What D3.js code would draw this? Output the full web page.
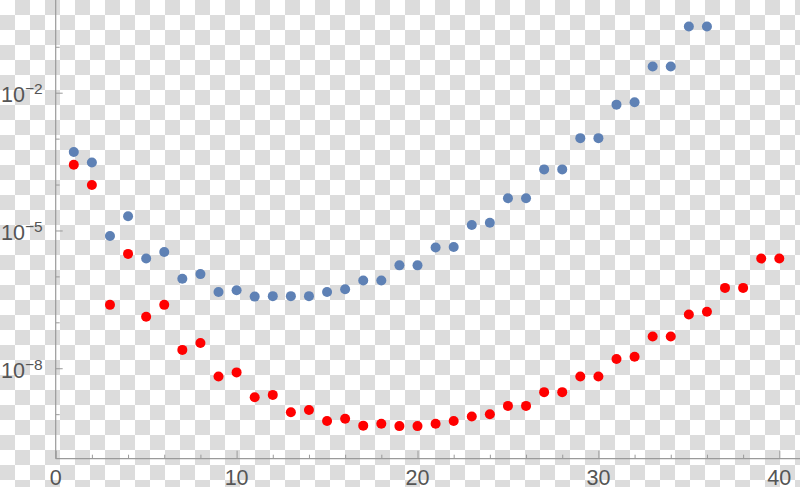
<!DOCTYPE html>
<html>
<head>
<meta charset="utf-8">
<script src="https://cdn.jsdelivr.net/npm/d3@7"></script>
<style>
html,body{margin:0;padding:0;background:#fff;}
svg{display:block;}
text{font-family:"Liberation Sans",Arial,Helvetica,sans-serif;fill:#555;}
</style>
</head>
<body>
<svg id="chart" width="800" height="487"></svg>
<script>
// ---- data (log10 of values) ----
const blueX = d3.range(1, 37);
const blueLog = [-3.29,-3.52,-5.12,-4.69,-5.61,-5.47,-6.05,-5.95,-6.34,-6.30,
                 -6.44,-6.43,-6.43,-6.43,-6.34,-6.28,-6.09,-6.09,-5.76,-5.76,
                 -5.37,-5.36,-4.88,-4.83,-4.30,-4.30,-3.67,-3.67,-2.99,-2.99,
                 -2.26,-2.21,-1.43,-1.43,-0.56,-0.56];
const redX = d3.range(1, 41);
const redLog = [-3.57,-4.01,-6.62,-5.51,-6.88,-6.62,-7.60,-7.45,-8.18,-8.09,
                -8.63,-8.58,-8.96,-8.91,-9.15,-9.10,-9.25,-9.21,-9.26,-9.26,
                -9.21,-9.15,-9.05,-9.00,-8.82,-8.82,-8.52,-8.52,-8.18,-8.18,
                -7.80,-7.75,-7.31,-7.31,-6.83,-6.77,-6.25,-6.25,-5.61,-5.61];
const xMajorTicks = [0, 10, 20, 30, 40];
const xMinorTicks = [2,4,6,8,12,14,16,18,22,24,26,28,32,34,36,38];
const yLabelExps = [-2, -5, -8];
const yMinorExps = [-1, -3, -4, -6, -7, -9];

const W = 800, H = 487;
const svg = d3.select("#chart");

// checkerboard background (transparent-image pattern)
const defs = svg.append("defs");
const pat = defs.append("pattern").attr("id","checker")
  .attr("patternUnits","userSpaceOnUse").attr("width",30).attr("height",30);
pat.append("rect").attr("width",30).attr("height",30).attr("fill","#ffffff");
pat.append("rect").attr("x",15).attr("y",0).attr("width",15).attr("height",15).attr("fill","#dcdcdc");
pat.append("rect").attr("x",0).attr("y",15).attr("width",15).attr("height",15).attr("fill","#dcdcdc");
svg.append("rect").attr("width",W).attr("height",H).attr("fill","url(#checker)");

const x = d3.scaleLinear().domain([0, 40]).range([55.7, 779.3]);
const y = d3.scaleLog().domain([1e-10, 1]).range([460.1, 0.84]);
const axisY = 458.7;
const axisColor = "#9a9a9a";

// x axis
const gx = svg.append("g").attr("transform", `translate(0,${axisY})`);
gx.call(d3.axisTop(x).tickValues(xMinorTicks).tickSize(4).tickFormat(""))
  .call(g => g.select(".domain").remove());
gx.append("g").call(d3.axisTop(x).tickValues(xMajorTicks).tickSize(8).tickFormat(""))
  .call(g => g.select(".domain").remove());
gx.selectAll(".tick line").attr("stroke", axisColor);
gx.append("line").attr("x1", x(0)).attr("x2", W).attr("y1", 0).attr("y2", 0)
  .attr("stroke", axisColor).attr("stroke-width", 1.2);
gx.selectAll(".xlab").data(xMajorTicks).enter().append("text")
  .attr("class","xlab")
  .attr("x", d => x(d)).attr("y", 26.3)
  .attr("text-anchor","middle").attr("font-size", 21.5)
  .text(d => d);

// y axis
const gy = svg.append("g").attr("transform", `translate(${x(0)},0)`);
gy.call(d3.axisRight(y).tickValues(yMinorExps.map(e => Math.pow(10, e))).tickSize(4).tickFormat(""))
  .call(g => g.select(".domain").remove());
gy.append("g").call(d3.axisRight(y).tickValues(yLabelExps.map(e => Math.pow(10, e))).tickSize(7).tickFormat(""))
  .call(g => g.select(".domain").remove());
gy.selectAll(".tick line").attr("stroke", axisColor);
gy.append("line").attr("x1", 0).attr("x2", 0).attr("y1", 0).attr("y2", axisY)
  .attr("stroke", axisColor).attr("stroke-width", 1.2);

const lab = svg.selectAll(".ylab").data(yLabelExps).enter().append("text")
  .attr("class","ylab")
  .attr("x", 1).attr("y", d => y(Math.pow(10, d)) + 9.3)
  .attr("font-size", 21.5);
lab.append("tspan").text("10");
lab.append("tspan").attr("dy", -8).attr("font-size", 15.5).text(d => "\u2212" + Math.abs(d));

// points
const pts = svg.append("g");
pts.selectAll(".b").data(blueX.map((v,i) => [v, Math.pow(10, blueLog[i])])).enter()
  .append("circle").attr("class","b")
  .attr("cx", d => x(d[0])).attr("cy", d => y(d[1])).attr("r", 5)
  .attr("fill", "#5e81b5");
pts.selectAll(".r").data(redX.map((v,i) => [v, Math.pow(10, redLog[i])])).enter()
  .append("circle").attr("class","r")
  .attr("cx", d => x(d[0])).attr("cy", d => y(d[1])).attr("r", 5)
  .attr("fill", "#ff0000");
</script>
</body>
</html>
